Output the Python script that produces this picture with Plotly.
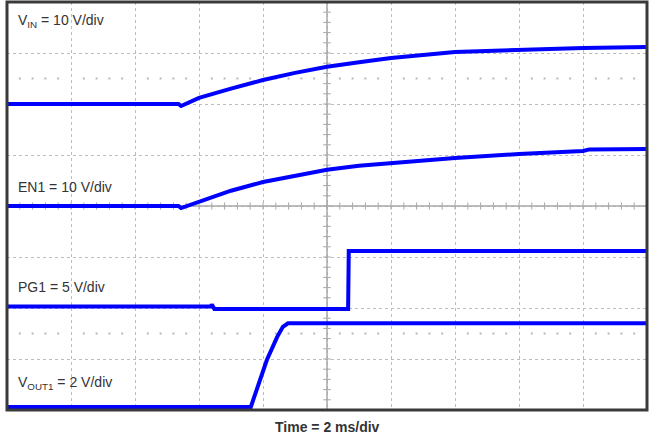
import plotly.graph_objects as go

# ---- data (time and amplitude in scope divisions) ----
vin_t = [0, 2.68, 2.72, 3.0, 3.5, 4.0, 4.5, 5.0, 5.5, 6.0, 7.0, 8.0, 9.0, 10.0]
vin_y = [6.0, 6.0, 5.96, 6.12, 6.30, 6.47, 6.61, 6.73, 6.82, 6.90, 7.02, 7.06, 7.10, 7.12]

en1_t = [0, 2.68, 2.72, 3.0, 3.5, 4.0, 4.5, 5.0, 5.5, 6.0, 7.0, 8.0, 9.0, 9.1, 10.0]
en1_y = [4.0, 4.0, 3.96, 4.08, 4.30, 4.47, 4.60, 4.71, 4.79, 4.84, 4.94, 5.02, 5.08, 5.11, 5.12]

pg1_t = [0, 3.19, 3.2, 3.22, 3.24, 5.33, 5.34, 10.0]
pg1_y = [2.03, 2.03, 2.07, 2.03, 1.98, 1.98, 3.12, 3.12]

vout1_t = [0, 3.81, 3.91, 4.06, 4.22, 4.31, 4.39, 10.0]
vout1_y = [0.06, 0.06, 0.43, 0.98, 1.43, 1.63, 1.70, 1.70]

ground_markers = [6.0, 4.0, 1.96, 0.06]

labels = ["V<sub>IN</sub> = 10 V/div", "EN1 = 10 V/div", "PG1 = 5 V/div", "V<sub>OUT1</sub> = 2 V/div"]
label_y = [7.62, 4.37, 2.41, 0.52]
time_label = "<b>Time = 2 ms/div</b>"

BLUE = "rgb(0,0,255)"
FONT = "Liberation Sans, Arial"
fig = go.Figure()

# dotted rows of minor dots
dot_x = [k * 0.2 for k in range(1, 50) if k % 5 != 0]
for yr in [6.5, 1.5]:
    fig.add_trace(go.Scatter(x=dot_x, y=[yr] * len(dot_x), mode="markers",
                             marker=dict(size=2, color="#b8b8b8", symbol="square"),
                             hoverinfo="skip", showlegend=False))

# center line minor ticks
tx, ty = [], []
for k in range(1, 50):
    x = k * 0.2
    tx += [x, x, None]
    ty += [4 - 0.07, 4 + 0.07, None]
for k in range(1, 40):
    y = k * 0.2
    tx += [5 - 0.06, 5 + 0.06, None]
    ty += [y, y, None]
fig.add_trace(go.Scatter(x=tx, y=ty, mode="lines", line=dict(color="#a8a8a8", width=1),
                         hoverinfo="skip", showlegend=False))
# center lines
fig.add_trace(go.Scatter(x=[0, 10, None, 5, 5], y=[4, 4, None, 0, 8], mode="lines",
                         line=dict(color="#a8a8a8", width=1.5), hoverinfo="skip", showlegend=False))

for t, y in [(vin_t, vin_y), (en1_t, en1_y), (pg1_t, pg1_y), (vout1_t, vout1_y)]:
    fig.add_trace(go.Scatter(x=t, y=y, mode="lines", line=dict(color=BLUE, width=4),
                             hoverinfo="skip", showlegend=False))

fig.add_trace(go.Scatter(x=[-0.07] * len(ground_markers), y=ground_markers, mode="markers",
                         marker=dict(symbol="triangle-right", size=6, color="#444444"),
                         cliponaxis=False, hoverinfo="skip", showlegend=False))

for txt, y in zip(labels, label_y):
    fig.add_annotation(x=0.14, y=y, text=txt, showarrow=False, xanchor="left", yanchor="middle",
                       font=dict(family=FONT, size=14, color="#333333"))

fig.add_annotation(x=0.5, y=-0.016, xref="paper", yref="paper", text=time_label, showarrow=False,
                   xanchor="center", yanchor="top",
                   font=dict(family=FONT, size=14, color="#333333"))

fig.add_shape(type="rect", xref="paper", yref="paper", x0=0, x1=1, y0=0, y1=1,
              line=dict(color="#3a3a3a", width=3), layer="above")

fig.update_xaxes(range=[0, 10], showticklabels=False, ticks="", zeroline=False,
                 showgrid=True, dtick=1, gridcolor="#bdbdbd", griddash="dot", gridwidth=1)
fig.update_yaxes(range=[0, 8], showticklabels=False, ticks="", zeroline=False,
                 showgrid=True, dtick=1, gridcolor="#bdbdbd", griddash="dot", gridwidth=1)

fig.update_layout(width=651, height=435, margin=dict(l=7, r=4, t=2, b=25),
                  paper_bgcolor="white", plot_bgcolor="white")

fig.write_html("out.html", config={"displayModeBar": False},
               post_script="document.body.style.margin='0';document.body.style.overflow='hidden';")
